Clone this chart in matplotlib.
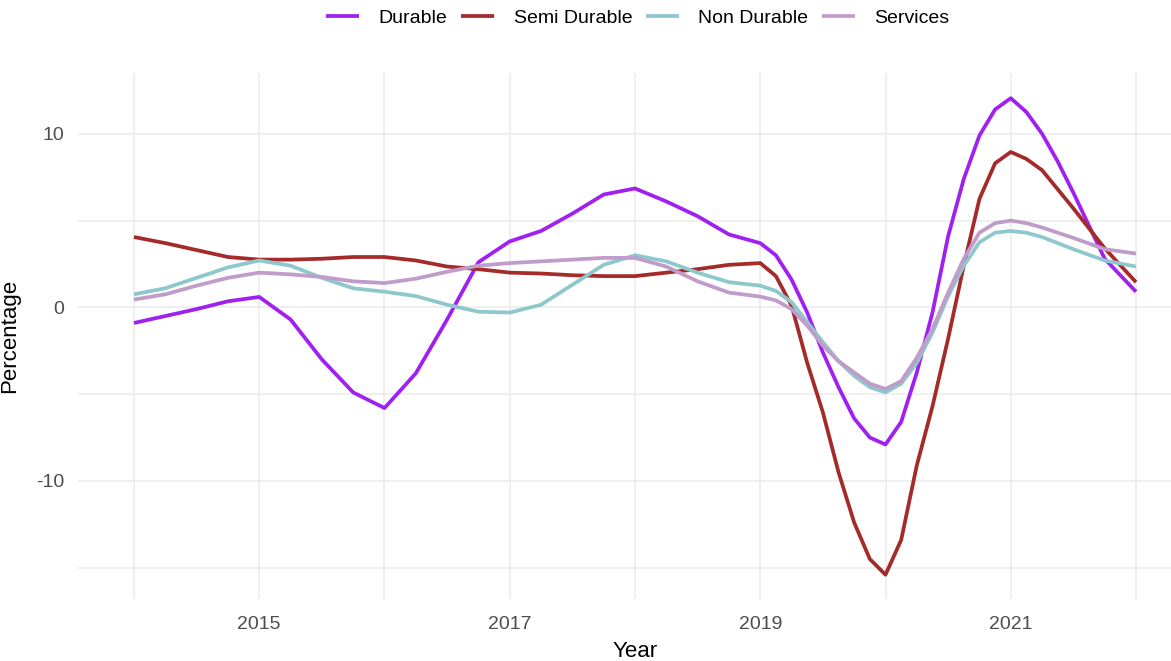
import matplotlib.pyplot as plt

# readings taken every quarter, and every eighth of a year over 2019-2021.5
years = [2014, 2014.25, 2014.5, 2014.75, 2015, 2015.25, 2015.5, 2015.75,
         2016, 2016.25, 2016.5, 2016.75, 2017, 2017.25, 2017.5, 2017.75,
         2018, 2018.25, 2018.5, 2018.75, 2019,
         2019.125, 2019.25, 2019.375, 2019.5, 2019.625, 2019.75, 2019.875, 2020,
         2020.125, 2020.25, 2020.375, 2020.5, 2020.625, 2020.75, 2020.875, 2021,
         2021.125, 2021.25, 2021.375, 2021.5,
         2021.75, 2022]

durable = [-0.9, -0.5, -0.1, 0.35, 0.6, -0.7, -3.0, -4.9, -5.8, -3.8, -0.7, 2.6, 3.8,
           4.4, 5.4, 6.5, 6.85, 6.1, 5.25, 4.2, 3.7,
           3.0, 1.6, -0.3, -2.6, -4.6, -6.4, -7.5, -7.9,
           -6.6, -3.75, -0.3, 4.1, 7.4, 9.9, 11.4, 12.05,
           11.25, 10.0, 8.4, 6.6,
           2.8, 0.9]
semi_durable = [4.05, 3.7, 3.3, 2.9, 2.75, 2.75, 2.8, 2.9, 2.9, 2.7, 2.35, 2.2, 2.0,
                1.95, 1.85, 1.8, 1.8, 2.0, 2.2, 2.45, 2.55,
                1.8, 0.1, -3.2, -6.05, -9.5, -12.4, -14.5, -15.4,
                -13.4, -9.1, -5.7, -1.8, 2.4, 6.25, 8.3, 8.95,
                8.55, 7.9, 6.8, 5.7,
                3.4, 1.45]
non_durable = [0.75, 1.1, 1.7, 2.3, 2.7, 2.4, 1.7, 1.1, 0.9, 0.65, 0.15, -0.25, -0.3,
               0.15, 1.3, 2.45, 3.0, 2.65, 2.0, 1.45, 1.25,
               0.95, 0.3, -0.85, -2.0, -3.1, -3.95, -4.6, -4.9,
               -4.4, -3.2, -1.45, 0.65, 2.4, 3.75, 4.3, 4.4,
               4.3, 4.05, 3.7, 3.35,
               2.7, 2.35]
services = [0.45, 0.75, 1.25, 1.7, 2.0, 1.9, 1.75, 1.5, 1.4, 1.65, 2.05, 2.4, 2.55,
            2.65, 2.75, 2.85, 2.85, 2.35, 1.5, 0.85, 0.62,
            0.4, -0.1, -1.05, -2.2, -3.1, -3.75, -4.4, -4.7,
            -4.25, -2.9, -1.25, 0.85, 2.8, 4.3, 4.85, 5.0,
            4.85, 4.6, 4.3, 4.0,
            3.35, 3.1]

labels = ["Durable", "Semi Durable", "Non Durable", "Services"]
colors = ["#A020F0", "#A52A2A", "#8EC8CC", "#C09CCB"]

plt.rcParams['font.family'] = ['Liberation Sans', 'DejaVu Sans']
plt.rcParams['axes.unicode_minus'] = False

W, H = 1171, 661
fig = plt.figure(figsize=(W / 100, H / 100), dpi=100)
# panel runs past the right edge, as in the reference
left, right, top, bottom = 78, 1192, 73, 599
ax = fig.add_axes([left / W, 1 - bottom / H, (right - left) / W, (bottom - top) / H])

for series, lab, col in zip([durable, semi_durable, non_durable, services], labels, colors):
    ax.plot(years, series, color=col, lw=2.7, label=lab,
            solid_joinstyle='round', solid_capstyle='butt')

ax.set_xlim(2013.553, 2022.447)
ax.set_ylim(-16.8, 13.5)
ax.set_xticks([2015, 2017, 2019, 2021])
ax.set_xticks([2014, 2016, 2018, 2020, 2022], minor=True)
ax.set_yticks([-10, 0, 10])
ax.set_yticks([-15, -5, 5], minor=True)
ax.grid(True, which='major', color='#EBEBEB', lw=1.1)
ax.grid(True, which='minor', color='#EBEBEB', lw=1.1)
ax.set_axisbelow(True)
for s in ax.spines.values():
    s.set_visible(False)
ax.tick_params(which='both', length=0)
ax.tick_params(axis='both', labelsize=14, labelcolor='#4D4D4D')
ax.tick_params(axis='x', pad=12)
ax.tick_params(axis='y', pad=10)

ax.set_xlabel("Year", fontsize=16, color='black', labelpad=6)
ax.set_ylabel("Percentage", fontsize=16, color='black')
ax.yaxis.set_label_coords((20 - left) / (right - left), 0.5)

fig.legend(loc='center', bbox_to_anchor=(638 / W, 1 - 18 / H), ncol=4, frameon=False,
           fontsize=14, handlelength=1.7, handletextpad=1.0, columnspacing=0.7)

fig.savefig("out.png", dpi=100)
